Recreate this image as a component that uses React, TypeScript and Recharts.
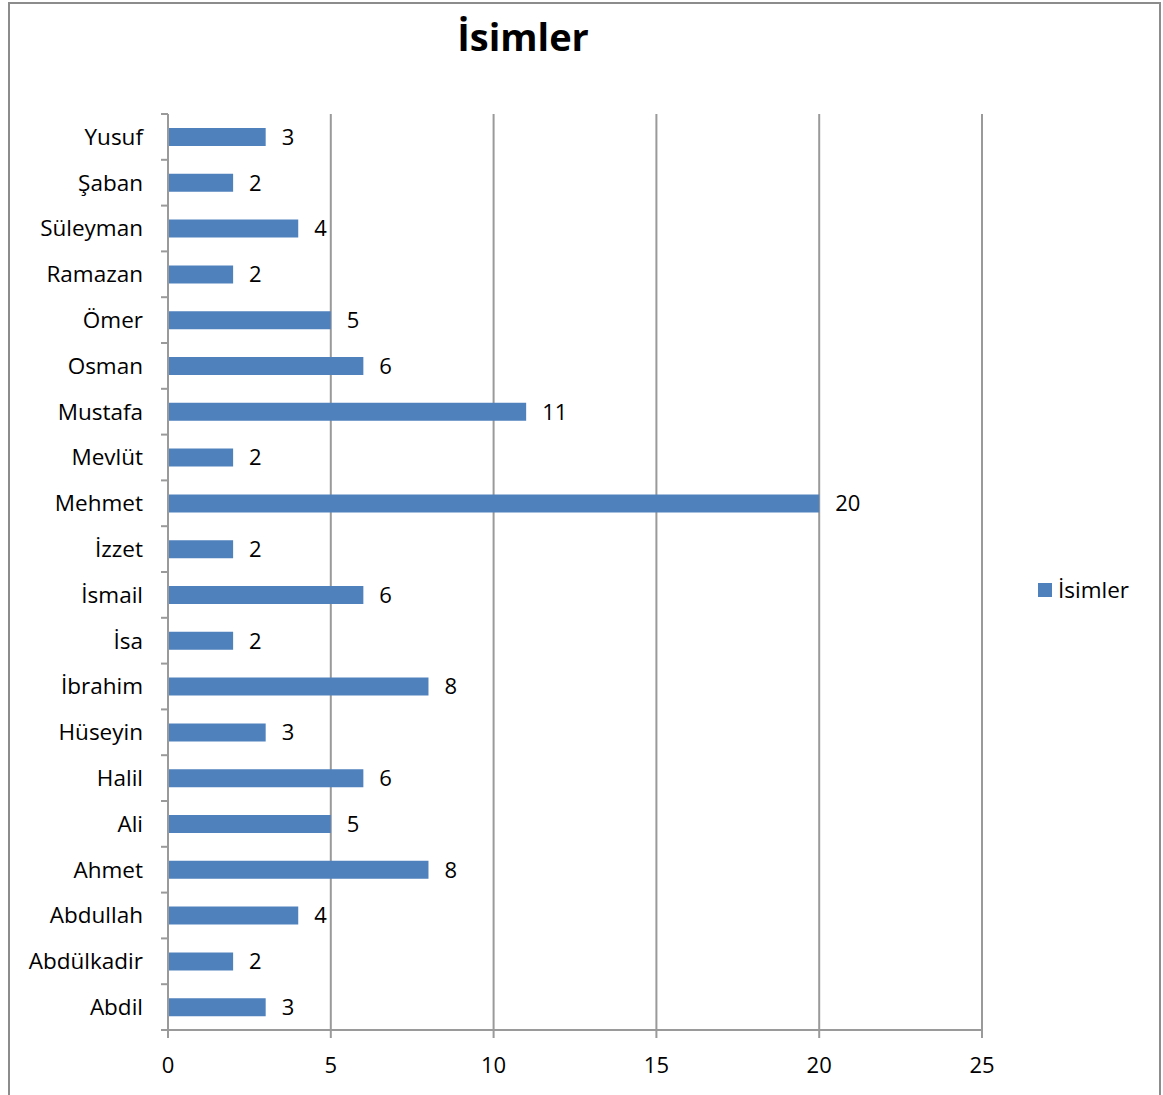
import React from "react";
import { BarChart, Bar, XAxis, YAxis, CartesianGrid, LabelList } from "recharts";

const names = ["Abdil", "Abdülkadir", "Abdullah", "Ahmet", "Ali", "Halil", "Hüseyin", "İbrahim", "İsa", "İsmail", "İzzet", "Mehmet", "Mevlüt", "Mustafa", "Osman", "Ömer", "Ramazan", "Süleyman", "Şaban", "Yusuf"];
const counts = [3, 2, 4, 8, 5, 6, 3, 8, 2, 6, 2, 20, 2, 11, 6, 5, 2, 4, 2, 3];
const xTicks = [0, 5, 10, 15, 20, 25];
const seriesName = "İsimler";
const chartTitle = "İsimler";

const data = names.map((n, i) => ({ name: n, value: counts[i] }));

const FONT = "'Open Sans', sans-serif";
const BAR = "#4F81BD";
const GRID = "#9a9a9a";

const YTick = (props: any) => {
  const { x, y, payload, index } = props;
  const half = 45.8 / 2;
  return (
    <g>
      <text x={x - 25} y={y} dy="0.35em" textAnchor="end" fontFamily={FONT} fontSize={22.5} fill="#000">
        {payload.value}
      </text>
      <line x1={x - 7} x2={x} y1={y - half} y2={y - half} stroke={GRID} strokeWidth={2} />
      {index === 0 ? <line x1={x - 7} x2={x} y1={y + half} y2={y + half} stroke={GRID} strokeWidth={2} /> : null}
    </g>
  );
};

export default function App() {
  return (
    <div style={{ position: "absolute", left: 0, top: 0, width: 1163, height: 1095, overflow: "hidden", background: "#fff" }}>
      <div style={{ position: "absolute", left: 8, top: 2, width: 1149, height: 1093, border: "2px solid #8c8c8c", borderBottom: "none" }} />
      <div style={{ position: "absolute", left: 0, width: 1046, top: 10, textAlign: "center", fontFamily: FONT, fontWeight: 700, fontSize: 38, lineHeight: "52px", color: "#000" }}>
        {chartTitle}
      </div>
      <div style={{ position: "absolute", left: 0, top: 0 }}>
        <BarChart
          width={1163}
          height={1095}
          data={data}
          layout="vertical"
          margin={{ top: 114, right: 181, bottom: 25, left: 8 }}
          barCategoryGap={0}
        >
          <CartesianGrid horizontal={false} vertical={true} stroke={GRID} strokeWidth={2} />
          <XAxis
            type="number"
            domain={[0, 25]}
            ticks={xTicks}
            height={40}
            tickSize={8}
            tickMargin={19}
            stroke={GRID}
            strokeWidth={2}
            tick={{ fill: "#000", fontFamily: FONT, fontSize: 22 }}
          />
          <YAxis
            type="category"
            dataKey="name"
            reversed
            width={160}
            tickLine={false}
            tickSize={0}
            tickMargin={0}
            stroke={GRID}
            strokeWidth={2}
            interval={0}
            tick={<YTick />}
          />
          <Bar dataKey="value" name={seriesName} fill={BAR} barSize={18} isAnimationActive={false}>
            <LabelList dataKey="value" position="right" offset={16} fill="#000" fontFamily={FONT} fontSize={22} />
          </Bar>
        </BarChart>
      </div>
      <div style={{ position: "absolute", left: 1038, top: 575, display: "flex", alignItems: "center", fontFamily: FONT, fontSize: 22.5, color: "#000", lineHeight: "30px" }}>
        <span style={{ display: "inline-block", width: 14, height: 14, background: BAR, marginRight: 6 }} />
        <span>{seriesName}</span>
      </div>
    </div>
  );
}
